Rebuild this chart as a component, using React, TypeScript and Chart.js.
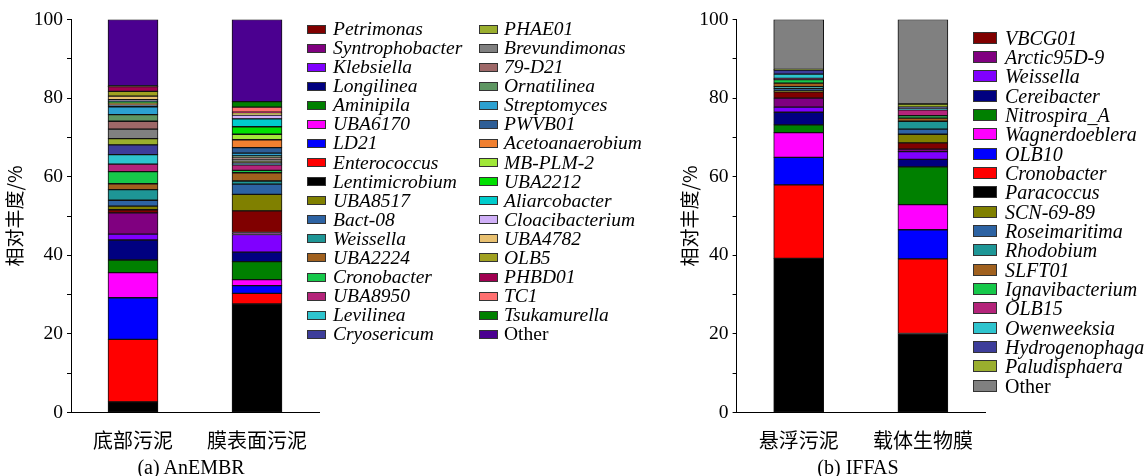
import React, { useEffect, useRef } from 'react';
import { Chart, registerables } from 'chart.js';
Chart.register(...registerables);

// ---------- Panel (a) AnEMBR ----------
const categoriesA = ['底部污泥', '膜表面污泥'];
// stack order, bottom -> top
const generaA = ['Lentimicrobium', 'Enterococcus', 'LD21', 'UBA6170', 'Aminipila', 'Longilinea', 'Klebsiella', 'Syntrophobacter', 'Petrimonas', 'UBA8517', 'Bact-08', 'Weissella', 'UBA2224', 'Cronobacter', 'UBA8950', 'Levilinea', 'Cryosericum', 'PHAE01', 'Brevundimonas', '79-D21', 'Ornatilinea', 'Streptomyces', 'PWVB01', 'Acetoanaerobium', 'MB-PLM-2', 'UBA2212', 'Aliarcobacter', 'Cloacibacterium', 'UBA4782', 'OLB5', 'PHBD01', 'TC1', 'Tsukamurella', 'Other'];
const bottomSludgeA = [2.7, 15.9, 10.6, 6.4, 3.2, 5.1, 1.5, 5.4, 0.8, 0.9, 1.5, 2.7, 1.5, 3.1, 1.9, 2.4, 2.5, 1.6, 2.4, 2.0, 1.7, 2.0, 0.5, 0.3, 0.2, 0.3, 0.2, 0.3, 0.9, 1.2, 1.2, 0.1, 0.1, 16.9];
const membraneSludgeA = [27.6, 2.7, 2.0, 1.5, 4.6, 2.4, 4.5, 0.5, 5.5, 4.2, 2.6, 0.8, 2.1, 0.6, 1.4, 0.2, 0.3, 0.5, 0.4, 0.4, 0.5, 0.7, 1.4, 2.0, 1.4, 1.9, 2.0, 1.0, 0.2, 0.3, 0.2, 1.3, 1.4, 20.9];
const colorsA = ['#000000', '#FF0000', '#0000FF', '#FF00FF', '#008000', '#000080', '#8000FF', '#800080', '#800000', '#808000', '#2D63A3', '#1E9696', '#A0601E', '#16C84A', '#B4247A', '#2EC4CE', '#3D3D9A', '#9AAE2E', '#808080', '#9E6868', '#5E9662', '#2CA0D0', '#2E5E96', '#F08030', '#A0E838', '#00E000', '#00CCCC', '#D0B0F8', '#E8C070', '#A0A020', '#A00050', '#FF7070', '#008000', '#4B0090'];
const legendOrderA = ['Petrimonas', 'Syntrophobacter', 'Klebsiella', 'Longilinea', 'Aminipila', 'UBA6170', 'LD21', 'Enterococcus', 'Lentimicrobium', 'UBA8517', 'Bact-08', 'Weissella', 'UBA2224', 'Cronobacter', 'UBA8950', 'Levilinea', 'Cryosericum', 'PHAE01', 'Brevundimonas', '79-D21', 'Ornatilinea', 'Streptomyces', 'PWVB01', 'Acetoanaerobium', 'MB-PLM-2', 'UBA2212', 'Aliarcobacter', 'Cloacibacterium', 'UBA4782', 'OLB5', 'PHBD01', 'TC1', 'Tsukamurella', 'Other'];

// ---------- Panel (b) IFFAS ----------
const categoriesB = ['悬浮污泥', '载体生物膜'];
const generaB = ['Paracoccus', 'Cronobacter', 'OLB10', 'Wagnerdoeblera', 'Nitrospira_A', 'Cereibacter', 'Weissella', 'Arctic95D-9', 'VBCG01', 'SCN-69-89', 'Roseimaritima', 'Rhodobium', 'SLFT01', 'Ignavibacterium', 'OLB15', 'Owenweeksia', 'Hydrogenophaga', 'Paludisphaera', 'Other'];
const suspendedB = [39.2, 18.7, 7.0, 6.3, 2.0, 3.2, 1.3, 2.3, 1.6, 0.2, 0.6, 0.5, 0.9, 0.9, 0.3, 1.1, 1.0, 0.2, 12.7];
const biofilmB = [20.1, 19.0, 7.4, 6.4, 9.6, 1.9, 2.0, 0.6, 1.6, 2.2, 1.3, 2.0, 0.8, 0.6, 1.5, 0.3, 0.4, 0.8, 21.5];
const colorsB = ['#000000', '#FF0000', '#0000FF', '#FF00FF', '#008000', '#000080', '#8000FF', '#800080', '#800000', '#808000', '#2D63A3', '#1E9696', '#A0601E', '#16C84A', '#B4247A', '#2EC4CE', '#3D3D9A', '#9AAE2E', '#808080'];
const legendOrderB = ['VBCG01', 'Arctic95D-9', 'Weissella', 'Cereibacter', 'Nitrospira_A', 'Wagnerdoeblera', 'OLB10', 'Cronobacter', 'Paracoccus', 'SCN-69-89', 'Roseimaritima', 'Rhodobium', 'SLFT01', 'Ignavibacterium', 'OLB15', 'Owenweeksia', 'Hydrogenophaga', 'Paludisphaera', 'Other'];

const yTitle = '相对丰度/%';
const SERIF = "'Liberation Serif', 'Times New Roman', serif";
const CJK = "'Noto Sans CJK SC', sans-serif";

type PanelProps = {
  left: number;
  width: number;
  axisWidth: number;
  padRight: number;
  titlePad: number;
  categories: string[];
  genera: string[];
  s1: number[];
  s2: number[];
  colors: string[];
};

function Panel(p: PanelProps) {
  const ref = useRef<HTMLCanvasElement>(null);
  useEffect(() => {
    const datasets = p.genera.map((g, i) => ({
      label: g,
      data: [p.s1[i], p.s2[i]],
      backgroundColor: p.colors[i],
      borderColor: '#111',
      borderWidth: 1,
      borderSkipped: false as const,
      barThickness: 50,
    }));
    const chart = new Chart(ref.current!, {
      type: 'bar',
      data: { labels: p.categories, datasets },
      options: {
        responsive: false,
        animation: false,
        devicePixelRatio: 1,
        layout: { padding: { top: 19.5, right: p.padRight, left: 0, bottom: 0 } },
        plugins: { legend: { display: false }, tooltip: { enabled: false } },
        scales: {
          x: {
            stacked: true,
            grid: { display: false },
            border: { display: true, color: '#000', width: 1 },
            ticks: { color: '#000', font: { family: CJK, size: 20 }, padding: 8, maxRotation: 0 },
            afterFit: (s: any) => { s.height = 476 - 412.5; },
          },
          y: {
            stacked: true,
            min: 0,
            max: 100,
            ticks: {
              stepSize: 10,
              color: '#000',
              padding: 4,
              font: { family: SERIF, size: 19.5 },
              callback: (v: any) => (Number(v) % 20 === 0 ? String(v) : ''),
            },
            grid: { drawOnChartArea: false, drawTicks: true, tickLength: 4, color: '#000' },
            border: { display: true, color: '#000', width: 1 },
            title: {
              display: true,
              text: yTitle,
              color: '#000',
              font: { family: CJK, size: 19 },
              padding: { top: p.titlePad, bottom: 0 },
            },
            afterFit: (s: any) => { s.width = p.axisWidth; },
          },
        },
      },
    });
    return () => chart.destroy();
  }, []);
  return (
    <canvas
      ref={ref}
      width={p.width}
      height={476}
      style={{ position: 'absolute', left: p.left, top: 0, width: p.width, height: 476 }}
    />
  );
}

type LegendProps = {
  names: string[];
  genera: string[];
  colors: string[];
  x: number;
  y0: number;
  step: number;
  sw: number;
  sh: number;
  textX: number;
  fontSize: number;
};

function LegendCol(p: LegendProps) {
  return (
    <>
      {p.names.map((n, i) => {
        const c = p.colors[p.genera.indexOf(n)];
        const cy = p.y0 + i * p.step;
        return (
          <React.Fragment key={n}>
            <div
              style={{
                position: 'absolute',
                left: p.x,
                top: cy - p.sh / 2,
                width: p.sw,
                height: p.sh,
                background: c,
                border: '1px solid #333',
                boxSizing: 'border-box',
              }}
            />
            <div
              style={{
                position: 'absolute',
                left: p.textX,
                top: cy - 10,
                height: 20,
                lineHeight: '20px',
                fontFamily: SERIF,
                fontSize: p.fontSize,
                fontStyle: n === 'Other' ? 'normal' : 'italic',
                whiteSpace: 'nowrap',
                color: '#000',
              }}
            >
              {n}
            </div>
          </React.Fragment>
        );
      })}
    </>
  );
}

export default function App() {
  return (
    <div
      style={{
        position: 'absolute',
        left: 0,
        top: 0,
        width: 1147,
        height: 476,
        overflow: 'hidden',
        background: '#fff',
      }}
    >
      <Panel
        left={0}
        width={325}
        axisWidth={71}
        padRight={6}
        titlePad={3.6}
        categories={categoriesA}
        genera={generaA}
        s1={bottomSludgeA}
        s2={membraneSludgeA}
        colors={colorsA}
      />
      <Panel
        left={660}
        width={330}
        axisWidth={76.6}
        padRight={5}
        titlePad={18.6}
        categories={categoriesB}
        genera={generaB}
        s1={suspendedB}
        s2={biofilmB}
        colors={colorsB}
      />
      <LegendCol names={legendOrderA.slice(0, 17)} genera={generaA} colors={colorsA} x={307} y0={29} step={19.08} sw={19} sh={9} textX={333} fontSize={19.5} />
      <LegendCol names={legendOrderA.slice(17)} genera={generaA} colors={colorsA} x={479} y0={29} step={19.08} sw={19} sh={9} textX={504} fontSize={19.5} />
      <LegendCol names={legendOrderB} genera={generaB} colors={colorsB} x={973} y0={37.7} step={19.33} sw={24} sh={12} textX={1005} fontSize={20} />
      <div style={{ position: 'absolute', left: 0, width: 382, top: 457, textAlign: 'center', fontFamily: SERIF, fontSize: 20, lineHeight: '20px', color: '#000', whiteSpace: 'nowrap' }}>
        (a) AnEMBR
      </div>
      <div style={{ position: 'absolute', left: 658, width: 400, top: 457, textAlign: 'center', fontFamily: SERIF, fontSize: 20, lineHeight: '20px', color: '#000', whiteSpace: 'nowrap' }}>
        (b) IFFAS
      </div>
    </div>
  );
}
